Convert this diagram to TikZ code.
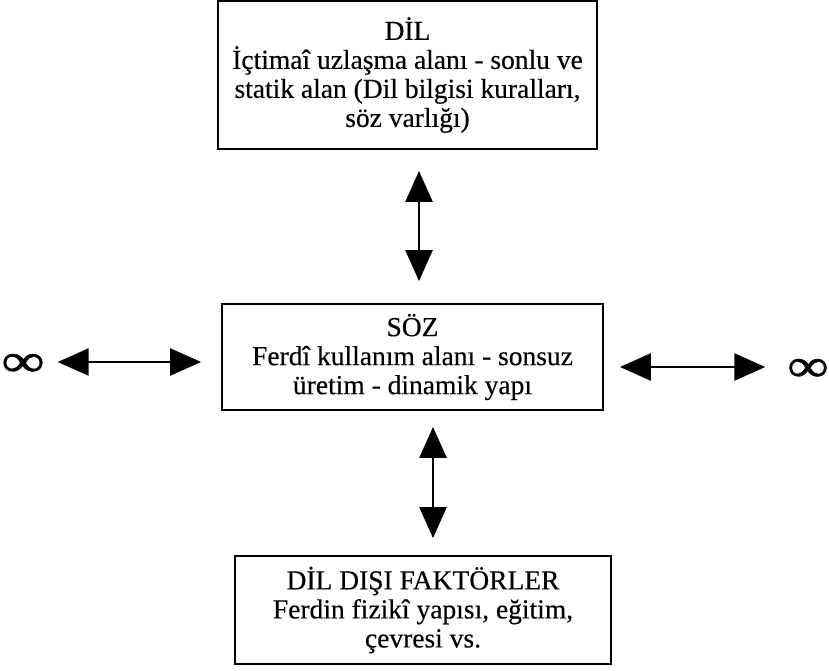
\documentclass[tikz,border=0pt]{standalone}
\usepackage{fontspec}
\usepackage{graphicx}
\setmainfont{Liberation Serif}
\newfontfamily\txtfont[FakeBold=0.35]{Liberation Serif}
\newfontfamily\inffont[FakeBold=1.2]{Liberation Serif}
\usetikzlibrary{arrows.meta}
\tikzset{
  box/.style={draw, line width=1.8pt, align=center, inner sep=0pt,
    font=\txtfont\fontsize{27.5}{29}\selectfont},
  arr/.style={line width=2.4pt, {Triangle[length=31pt,width=27pt]}-{Triangle[length=31pt,width=27pt]}},
  inf/.style={inner sep=0pt}
}
\begin{document}
\begin{tikzpicture}[x=1pt,y=1pt]
\useasboundingbox (0,0) rectangle (829,-671);
\node[box, minimum width=379pt, minimum height=148pt] (dil) at (407.5,-75)
  {D\.IL\\ \.Içtimaî uzlaşma alanı - sonlu ve\\ statik alan (Dil bilgisi kuralları,\\ söz varlığı)};
\node[box, minimum width=381pt, minimum height=106pt] (soz) at (412.5,-357)
  {SÖZ\\ Ferdî kullanım alanı - sonsuz\\ üretim - dinamik yapı};
\node[box, minimum width=376pt, minimum height=108pt] (dis) at (423,-610)
  {D\.IL DIŞI FAKTÖRLER\\ Ferdin fizikî yapısı, eğitim,\\ çevresi vs.};
\node[inf] (infL) at (23,-365) {\resizebox{43pt}{22pt}{\inffont\fontsize{40}{40}\selectfont ∞}};
\node[inf] (infR) at (808,-370) {\resizebox{41pt}{22pt}{\inffont\fontsize{40}{40}\selectfont ∞}};
\draw[arr] ([xshift=11.5pt,yshift=-21pt]dil.south) -- ([xshift=6.5pt,yshift=22pt]soz.north);
\draw[arr] ([xshift=20.5pt,yshift=-16pt]soz.south) -- ([xshift=10pt,yshift=17pt]dis.north);
\draw[arr, shorten <=13pt, shorten >=20pt] ([yshift=3pt]infL.east) -- ([yshift=3pt]infL.east -| soz.west);
\draw[arr, shorten <=16pt, shorten >=22pt] ([yshift=3pt]infR.west -| soz.east) -- ([yshift=3pt]infR.west);
\end{tikzpicture}
\end{document}
